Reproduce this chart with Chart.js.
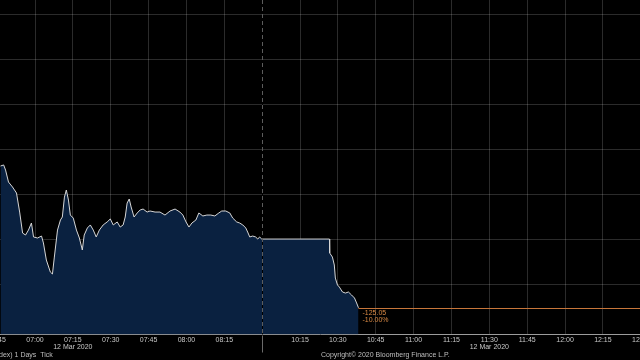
<!DOCTYPE html>
<html>
<head>
<meta charset="utf-8">
<title>Index 1 Days Tick - 12 Mar 2020</title>
<script src="https://cdn.jsdelivr.net/npm/chart.js@4.4.1/dist/chart.umd.min.js"></script>
<style>
  html, body { margin: 0; padding: 0; background: #000; overflow: hidden; }
  canvas { display: block; }
</style>
</head>
<body>
<canvas id="tickChart" width="640" height="360"></canvas>
<script>
// tick prices, 12 Mar 2020 - morning session ends 08:30, trading resumes 10:00
const times = [
  '06:46:20','06:47:35','06:48:20','06:49:30','06:51:05','06:52:40','06:53:55','06:55:05',
  '06:56:15','06:57:25','06:58:35','06:59:25','07:01:00','07:02:35','07:03:20','07:04:30',
  '07:06:05','07:06:55','07:07:40','07:08:55','07:10:05','07:10:50','07:11:40','07:12:25',
  '07:13:15','07:14:00','07:15:10','07:16:25','07:17:35','07:18:45','07:19:30','07:20:45',
  '07:21:55','07:23:05','07:24:15','07:25:30','07:27:00','07:28:35','07:29:50','07:31:00',
  '07:32:35','07:33:45','07:34:55','07:35:45','07:36:30','07:37:20','07:38:05','07:39:15',
  '07:40:30','07:41:40','07:42:50','07:44:25','07:45:35','07:47:35','07:49:30','07:51:30',
  '07:53:30','07:55:30','07:57:25','07:58:35','07:59:50','08:01:00','08:02:10','08:03:45',
  '08:04:55','08:06:30','08:08:05','08:09:40','08:11:15','08:12:50','08:14:00','08:15:35',
  '08:17:10','08:18:20','08:19:55','08:21:05','08:22:20','08:23:30','08:24:15','08:25:05',
  '08:26:15','08:27:25','08:28:15','08:29:00','08:29:50',
  '10:00:00','10:26:40','10:26:45','10:27:50','10:28:35','10:29:00','10:29:50','10:30:35',
  '10:31:50','10:33:00','10:34:10','10:35:25','10:36:35','10:37:25','10:38:10'
];
const prices = [
  1219.0,1219.7,1216.3,1208.3,1205.0,1201.0,1188.3,1174.3,
  1173.0,1176.3,1181.0,1171.7,1171.0,1172.3,1167.7,1156.3,
  1148.3,1147.0,1158.3,1176.3,1183.0,1185.0,1198.3,1203.0,
  1196.3,1186.3,1184.3,1176.3,1171.0,1163.0,1173.0,1177.7,
  1179.7,1176.3,1171.7,1176.3,1179.7,1181.7,1183.7,1179.7,
  1181.7,1178.3,1179.7,1185.0,1194.3,1197.0,1191.7,1185.0,
  1187.7,1189.7,1190.3,1188.3,1189.0,1188.3,1188.3,1186.3,
  1189.0,1190.3,1188.3,1186.3,1181.7,1178.3,1181.0,1183.0,
  1187.7,1185.7,1186.3,1186.3,1185.7,1187.7,1189.0,1189.0,
  1187.7,1184.3,1181.7,1181.0,1179.7,1177.7,1175.0,1171.7,
  1172.3,1171.7,1170.3,1171.7,1170.3,
  1170.3,1170.3,1161.0,1158.3,1153.0,1144.3,1139.7,1138.3,
  1135.0,1134.3,1135.0,1133.0,1131.0,1127.7,1124.5
];
const lastChange = '-125.05';
const lastPct = '-10.00%';

// x axis ticks every 15 min on the cut time axis ('' = session break)
const tickTimes = ['06:45','07:00','07:15','07:30','07:45','08:00','08:15','',
  '10:15','10:30','10:45','11:00','11:15','11:30','11:45','12:00','12:15','12:30'];
const dateLabel = '12 Mar 2020';
const dateUnder = ['07:15', '11:30'];
const gridPrices = [1140, 1170, 1200, 1230, 1260, 1290, 1320];

const footLeft = 'dex) 1 Days  Tick';
const footRight = 'Copyright\u00A9 2020 Bloomberg Finance L.P.';

const BREAK = 105;   // 08:30 and 10:00 share this spot
const gridColor = 'rgba(255,255,255,0.17)';
const font = 'Liberation Sans, Arial, sans-serif';

// minutes since 06:45, lunch gap removed
function toAxis(t) {
  const p = t.split(':').map(Number);
  const m = p[0] * 60 + p[1] + (p[2] || 0) / 60;
  return m >= 600 ? m - 600 + BREAK : m - 405;
}

const extras = {
  id: 'extras',
  beforeDraw(chart) {
    const ctx = chart.ctx;
    ctx.save();
    ctx.fillStyle = '#000';
    ctx.fillRect(0, 0, chart.width, chart.height);
    ctx.restore();
  },
  afterDraw(chart) {
    const {ctx, chartArea, scales: {x, y}} = chart;
    ctx.save();
    // session break line
    const bx = Math.round(x.getPixelForValue(BREAK)) + 0.5;
    ctx.lineWidth = 1;
    ctx.strokeStyle = '#000';
    ctx.beginPath(); ctx.moveTo(bx, chartArea.top); ctx.lineTo(bx, chartArea.bottom); ctx.stroke();
    ctx.strokeStyle = '#5c5c5c';
    ctx.setLineDash([4, 3]);
    ctx.beginPath(); ctx.moveTo(bx, chartArea.top); ctx.lineTo(bx, chartArea.bottom); ctx.stroke();
    ctx.setLineDash([]);
    ctx.strokeStyle = '#6a6a6a';
    ctx.beginPath(); ctx.moveTo(bx, chartArea.bottom + 1); ctx.lineTo(bx, chartArea.bottom + 18); ctx.stroke();

    // last price line + labels
    const n = prices.length - 1;
    const lx = x.getPixelForValue(toAxis(times[n]));
    const ly = Math.round(y.getPixelForValue(prices[n])) + 0.5;
    ctx.strokeStyle = '#c7763a';
    ctx.beginPath(); ctx.moveTo(lx, ly); ctx.lineTo(chartArea.right, ly); ctx.stroke();
    ctx.fillStyle = '#d98a45';
    ctx.font = '7px ' + font;
    ctx.textBaseline = 'middle';
    ctx.fillText(lastChange, lx + 4, ly + 4.5);
    ctx.fillText(lastPct, lx + 4, ly + 11.5);

    // footer
    ctx.fillStyle = '#bdbdbd';
    ctx.fillText(footLeft, -1, 355.5);
    ctx.fillText(footRight, 321, 355.5);
    ctx.restore();
  }
};

new Chart(document.getElementById('tickChart'), {
  type: 'line',
  data: {
    datasets: [{
      data: times.map((t, i) => ({x: toAxis(t), y: prices[i]})),
      borderColor: '#d6d6d6',
      borderWidth: 1,
      backgroundColor: '#0a2140',
      fill: 'start',
      pointRadius: 0,
      tension: 0
    }]
  },
  options: {
    responsive: false,
    animation: false,
    layout: {padding: 0},
    plugins: {legend: {display: false}, tooltip: {enabled: false}},
    scales: {
      x: {
        type: 'linear',
        min: 1.133,
        max: 254.7,
        z: 1,
        afterBuildTicks: s => { s.ticks = tickTimes.map((_, i) => ({value: i * 15})); },
        afterFit: s => { s.height = 25.5; s.paddingLeft = 0; s.paddingRight = 0; },
        grid: {
          color: c => (c.tick && c.tick.value === BREAK) ? 'rgba(0,0,0,0)' : gridColor,
          drawTicks: false
        },
        border: {display: true, color: '#9c9c9c', width: 1},
        ticks: {
          autoSkip: false,
          maxRotation: 0,
          padding: 2,
          color: '#c8c8c8',
          font: {family: font, size: 7, lineHeight: 1},
          callback: v => {
            const lbl = tickTimes[Math.round(v / 15)] || '';
            return dateUnder.includes(lbl) ? [lbl, dateLabel] : lbl;
          }
        }
      },
      y: {
        type: 'linear',
        position: 'right',
        min: 1106.67,
        max: 1329.67,
        z: 1,
        afterBuildTicks: s => { s.ticks = gridPrices.map(v => ({value: v})); },
        afterFit: s => { s.width = 0; s.paddingTop = 0; s.paddingBottom = 0; },
        grid: {color: gridColor, drawTicks: false},
        border: {display: false},
        ticks: {display: false}
      }
    }
  },
  plugins: [extras]
});
</script>
</body>
</html>
